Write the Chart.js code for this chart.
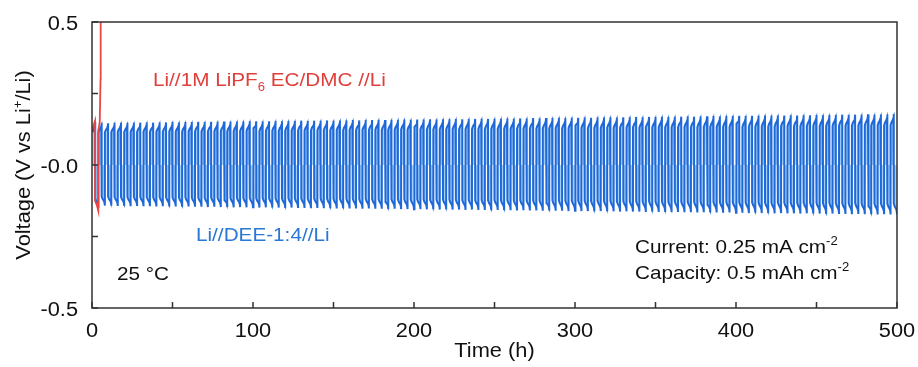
<!DOCTYPE html>
<html><head><meta charset="utf-8">
<script src="https://cdn.jsdelivr.net/npm/chart.js@4/dist/chart.umd.min.js"></script>
<style>html,body{margin:0;padding:0;background:#fff}#wrap{width:918px;height:367px}</style>
</head><body><div id="wrap"><canvas id="c" width="918" height="367"></canvas></div>
<script>
// ---- data ----
const cycleHours = 4;           // one plating/stripping cycle
const blueUpperPeaks = [
0.151,0.147,0.146,0.147,0.148,0.147,0.148,0.148,0.149,0.148,0.149,0.149,0.150,0.149,0.150,0.150,0.151,0.150,0.151,0.151,0.152,0.151,0.152,0.152,0.153,
0.153,0.152,0.153,0.154,0.153,0.154,0.154,0.155,0.154,0.155,0.155,0.156,0.155,0.156,0.156,0.157,0.156,0.157,0.157,0.158,0.157,0.158,0.158,0.159,0.158,
0.159,0.159,0.160,0.159,0.160,0.160,0.161,0.160,0.161,0.161,0.162,0.161,0.162,0.162,0.163,0.162,0.163,0.163,0.164,0.163,0.164,0.164,0.165,0.164,0.165,
0.165,0.166,0.165,0.166,0.166,0.167,0.166,0.167,0.167,0.168,0.167,0.168,0.168,0.169,0.168,0.169,0.169,0.170,0.169,0.170,0.170,0.171,0.170,0.171,0.171,
0.172,0.171,0.172,0.172,0.173,0.172,0.173,0.173,0.174,0.173,0.174,0.174,0.175,0.174,0.175,0.175,0.176,0.175,0.176,0.176,0.177,0.176,0.177,0.177,0.178];
const blueLowerPeaks = [
-0.150,-0.142,-0.142,-0.143,-0.143,-0.144,-0.143,-0.144,-0.144,-0.145,-0.144,-0.145,-0.145,-0.146,-0.145,-0.146,-0.146,-0.147,-0.146,-0.147,-0.147,-0.148,-0.147,-0.148,-0.148,
-0.149,-0.148,-0.149,-0.149,-0.150,-0.149,-0.150,-0.150,-0.151,-0.150,-0.151,-0.151,-0.152,-0.151,-0.152,-0.152,-0.153,-0.152,-0.153,-0.153,-0.154,-0.153,-0.154,-0.154,-0.155,
-0.154,-0.155,-0.155,-0.156,-0.155,-0.156,-0.156,-0.157,-0.156,-0.157,-0.157,-0.158,-0.157,-0.158,-0.158,-0.159,-0.158,-0.159,-0.159,-0.160,-0.159,-0.160,-0.160,-0.161,-0.160,
-0.161,-0.161,-0.162,-0.161,-0.162,-0.162,-0.163,-0.162,-0.163,-0.163,-0.164,-0.163,-0.164,-0.164,-0.165,-0.164,-0.165,-0.165,-0.166,-0.165,-0.166,-0.166,-0.167,-0.166,-0.167,
-0.167,-0.168,-0.167,-0.168,-0.168,-0.169,-0.168,-0.169,-0.169,-0.170,-0.169,-0.170,-0.170,-0.171,-0.170,-0.171,-0.171,-0.172,-0.171,-0.172,-0.172,-0.173,-0.172,-0.173,-0.173];
// shape of one half cycle (time in h from its start, fraction of that half's peak)
const halfShapeTime = [0, 0.6, 1.3, 1.8, 2.0];
const halfShapeFrac = [0.78, 0.84, 0.88, 0.93, 1.0];
// red cell (fails after ~5 h)
const redTime    = [0, 1.0, 1.9, 1.9, 3.0, 3.9, 3.9, 4.8, 5.3, 5.4];
const redVoltage = [0.125, 0.14, 0.155, -0.125, -0.14, -0.16, 0.12, 0.15, 0.30, 0.60];
// axes
const xTickValues = [0,50,100,150,200,250,300,350,400,450,500];
const xTickLabels = {0:'0',100:'100',200:'200',300:'300',400:'400',500:'500'};
const yTickValues = [-0.5,-0.25,0,0.25,0.5];
const yTickLabels = {'-0.5':'-0.5','0':'-0.0','0.5':'0.5'};

// build blue points from the cycle table
const bluePts = [];
blueUpperPeaks.forEach((up, i) => {
  const t0 = i * cycleHours, lo = blueLowerPeaks[i];
  halfShapeTime.forEach((dt, k) => bluePts.push({x: t0 + dt, y: up * halfShapeFrac[k]}));
  halfShapeTime.forEach((dt, k) => bluePts.push({x: t0 + 2 + dt, y: lo * halfShapeFrac[k]}));
});
const redPts = redTime.map((t, i) => ({x: t, y: redVoltage[i]}));

const FONT = '"Liberation Sans", Arial, Helvetica, sans-serif';
const AX = '#333';
const SX = 1.09; // horizontal stretch of the reference's lettering

function partSize(p, size) { return p.sup || p.sub ? Math.round(size * 0.62) : size; }
function richWidth(ctx, parts, size) {
  let w = 0;
  parts.forEach(p => { ctx.font = partSize(p, size) + 'px ' + FONT; w += ctx.measureText(p.t).width; });
  return w * SX;
}
// draw text parts; align: 'left' | 'center' | 'right'; y is the baseline
function drawRich(ctx, parts, x, y, size, color, align) {
  const w = richWidth(ctx, parts, size);
  let x0 = align === 'center' ? x - w / 2 : (align === 'right' ? x - w : x);
  ctx.save();
  ctx.translate(x0, y); ctx.scale(SX, 1);
  ctx.fillStyle = color; ctx.textBaseline = 'alphabetic'; ctx.textAlign = 'left';
  let cx = 0;
  parts.forEach(p => {
    const s = partSize(p, size);
    ctx.font = s + 'px ' + FONT;
    const dy = p.sup ? -size * 0.42 : (p.sub ? size * 0.25 : 0);
    ctx.fillText(p.t, cx, dy);
    cx += ctx.measureText(p.t).width;
  });
  ctx.restore();
}

const decor = {
  id: 'decor',
  afterDraw(chart) {
    const ctx = chart.ctx, a = chart.chartArea, xs = chart.scales.x, ys = chart.scales.y;
    ctx.save();
    // box
    ctx.strokeStyle = AX; ctx.lineWidth = 1.5;
    ctx.strokeRect(a.left, a.top, a.right - a.left, a.bottom - a.top);
    // inward ticks
    ctx.beginPath();
    xTickValues.forEach(v => { const px = xs.getPixelForValue(v); ctx.moveTo(px, a.bottom); ctx.lineTo(px, a.bottom - 6); });
    yTickValues.forEach(v => { const py = ys.getPixelForValue(v); ctx.moveTo(a.left, py); ctx.lineTo(a.left + 6, py); });
    ctx.stroke();
    // tick labels
    xTickValues.forEach(v => { if (xTickLabels[v] !== undefined) drawRich(ctx, [{t: xTickLabels[v]}], xs.getPixelForValue(v), 337, 20, '#111', 'center'); });
    yTickValues.forEach(v => { const l = yTickLabels[String(v)]; if (l !== undefined) drawRich(ctx, [{t: l}], 78, ys.getPixelForValue(v) + 8, 20, '#111', 'right'); });
    // axis titles
    drawRich(ctx, [{t:'Time (h)'}], (a.left + a.right) / 2, 357, 20, '#111', 'center');
    ctx.save();
    ctx.translate(30, (a.top + a.bottom) / 2);
    ctx.rotate(-Math.PI / 2);
    drawRich(ctx, [{t:'Voltage (V vs Li'},{t:'+',sup:true},{t:'/Li)'}], 0, 0, 20, '#111', 'center');
    ctx.restore();
    // annotations
    drawRich(ctx, [{t:'Li//1M LiPF'},{t:'6',sub:true},{t:' EC/DMC //Li'}], 153, 86, 19, '#e0403c', 'left');
    drawRich(ctx, [{t:'Li//DEE-1:4//Li'}], 196, 241, 19, '#2a78d6', 'left');
    drawRich(ctx, [{t:'25 °C'}], 117, 280, 19, '#111', 'left');
    drawRich(ctx, [{t:'Current: 0.25 mA cm'},{t:'-2',sup:true}], 635, 253, 19, '#111', 'left');
    drawRich(ctx, [{t:'Capacity: 0.5 mAh cm'},{t:'-2',sup:true}], 635, 279, 19, '#111', 'left');
    ctx.restore();
  }
};

new Chart(document.getElementById('c'), {
  type: 'line',
  data: { datasets: [
    { label: 'Li//DEE-1:4//Li', data: bluePts, borderColor: '#1e68d8', borderWidth: 2,
      backgroundColor: '#a3cff3', fill: 'origin', pointRadius: 0, tension: 0, order: 2 },
    { label: 'Li//1M LiPF6 EC/DMC //Li', data: redPts, borderColor: '#ea4545', borderWidth: 1.8,
      fill: false, pointRadius: 0, tension: 0, order: 1 }
  ]},
  options: {
    responsive: false, animation: false, events: [],
    layout: { padding: { top: 22, right: 21, left: 0, bottom: 0 } },
    plugins: { legend: { display: false }, tooltip: { enabled: false } },
    scales: {
      x: { type: 'linear', min: 0, max: 500,
        afterBuildTicks: s => { s.ticks = xTickValues.map(v => ({value: v})); },
        afterFit: s => { s.height = 59; },
        grid: { display: false, drawTicks: false }, border: { display: false },
        ticks: { display: false } },
      y: { type: 'linear', min: -0.5, max: 0.5,
        afterBuildTicks: s => { s.ticks = yTickValues.map(v => ({value: v})); },
        afterFit: s => { s.width = 92; },
        grid: { display: false, drawTicks: false }, border: { display: false },
        ticks: { display: false } }
    }
  },
  plugins: [decor]
});
</script></body></html>
